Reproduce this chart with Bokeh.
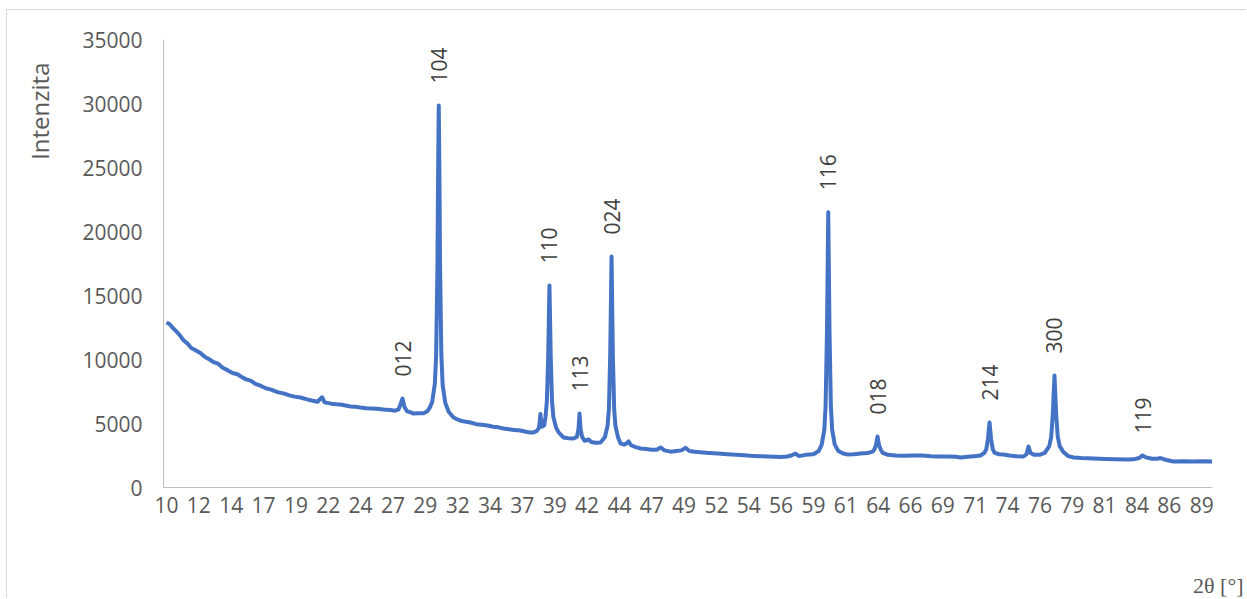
import numpy as np
from bokeh.plotting import figure
from bokeh.models import Range1d, FixedTicker, Title, ColumnDataSource
from bokeh.core.properties import value
from bokeh.embed import file_html
from bokeh.resources import INLINE

# ---- data ----
two_theta = [
    10.00, 10.25, 10.54, 10.80, 11.05, 11.30, 11.60, 11.90, 12.25, 12.60, 12.95, 13.30, 13.60, 13.90,
    14.30, 14.70, 15.05, 15.43, 15.80, 16.10, 16.43, 16.80, 17.19, 17.60, 18.00, 18.50, 18.95, 19.40,
    19.80, 20.25, 20.70, 21.10, 21.55, 21.90, 22.10, 22.60, 23.00, 23.31, 23.70, 24.08, 24.50, 24.84,
    25.30, 25.70, 26.10, 26.60, 27.14, 27.50, 27.75, 27.92, 28.06, 28.20, 28.40, 28.60, 28.90, 29.30,
    29.66, 29.95, 30.15, 30.33, 30.53, 30.63, 30.73, 30.78, 30.83, 30.88, 30.93, 31.03, 31.13, 31.33,
    31.60, 31.96, 32.40, 32.80, 33.26, 33.70, 34.10, 34.56, 35.00, 35.40, 35.78, 36.20, 36.60, 37.08,
    37.50, 37.80, 38.08, 38.30, 38.50, 38.56, 38.61, 38.66, 38.75, 38.90, 39.00, 39.10, 39.20, 39.30,
    39.40, 39.50, 39.60, 39.80, 40.00, 40.37, 40.75, 41.14, 41.40, 41.52, 41.60, 41.68, 41.80, 42.00,
    42.29, 42.50, 42.80, 43.21, 43.55, 43.75, 43.85, 43.95, 44.05, 44.15, 44.25, 44.35, 44.55, 44.74,
    45.00, 45.20, 45.35, 45.55, 45.90, 46.27, 46.70, 47.10, 47.50, 47.80, 48.10, 48.56, 49.00, 49.40,
    49.71, 50.00, 50.40, 50.86, 51.50, 52.20, 52.90, 53.60, 54.20, 54.68, 55.30, 56.00, 56.50, 56.98,
    57.50, 57.80, 58.12, 58.40, 58.90, 59.50, 59.90, 60.13, 60.33, 60.43, 60.53, 60.63, 60.73, 60.83,
    60.93, 61.13, 61.40, 61.80, 62.11, 62.60, 63.10, 63.64, 64.02, 64.15, 64.28, 64.40, 64.52, 64.65,
    64.80, 65.20, 65.80, 66.40, 67.15, 67.80, 68.50, 69.10, 69.75, 70.40, 70.75, 71.30, 71.80, 72.28,
    72.57, 72.72, 72.85, 72.97, 73.09, 73.22, 73.37, 73.70, 74.04, 74.50, 75.00, 75.57, 75.80, 75.95,
    76.10, 76.40, 76.80, 77.20, 77.54, 77.69, 77.81, 77.94, 78.07, 78.19, 78.34, 78.60, 79.00, 79.40,
    80.00, 80.93, 81.80, 82.60, 83.53, 84.00, 84.40, 84.68, 84.95, 85.40, 85.80, 86.05, 86.50, 87.05,
    87.80, 88.58, 89.30, 90.00,
]
intensity = [
    12900, 12750, 12400, 12150, 11850, 11500, 11250, 10900, 10700, 10500, 10200, 10000, 9800, 9700,
    9350, 9150, 8950, 8850, 8600, 8450, 8350, 8100, 7950, 7750, 7650, 7450, 7350, 7200,
    7100, 7030, 6900, 6800, 6700, 7050, 6650, 6550, 6500, 6480, 6400, 6330, 6300, 6250,
    6200, 6180, 6150, 6090, 6050, 6000, 6100, 6550, 6950, 6300, 5950, 5900, 5780, 5800,
    5800, 5950, 6250, 6700, 8100, 10300, 17300, 24600, 29850, 24600, 17300, 10300, 8000, 6600,
    5900, 5470, 5250, 5150, 5080, 4950, 4900, 4840, 4750, 4700, 4610, 4550, 4500, 4450,
    4350, 4300, 4300, 4400, 4650, 5200, 5750, 5200, 4750, 4850, 5550, 6700, 10100, 15780,
    10100, 6700, 5500, 4700, 4300, 3910, 3850, 3830, 3950, 4550, 5780, 4550, 3950, 3650,
    3750, 3550, 3500, 3520, 3950, 4850, 6150, 10450, 18050, 10450, 6150, 4800, 3900, 3440,
    3350, 3450, 3600, 3300, 3150, 3050, 3000, 2950, 2950, 3130, 2900, 2800, 2850, 2900,
    3100, 2850, 2800, 2750, 2700, 2650, 2600, 2550, 2520, 2480, 2450, 2420, 2400, 2380,
    2420, 2500, 2650, 2450, 2550, 2600, 2850, 3350, 4500, 6400, 12050, 21500, 12050, 6400,
    4500, 3350, 2850, 2650, 2580, 2600, 2650, 2700, 2800, 2950, 3300, 3980, 3300, 2950,
    2700, 2550, 2500, 2480, 2500, 2500, 2450, 2430, 2420, 2400, 2350, 2400, 2450, 2500,
    2700, 2980, 3790, 5080, 3790, 2980, 2700, 2600, 2580, 2500, 2450, 2420, 2600, 3200,
    2700, 2550, 2550, 2700, 3230, 3950, 5700, 8750, 5700, 3950, 3230, 2800, 2450, 2340,
    2300, 2260, 2220, 2200, 2180, 2200, 2300, 2500, 2350, 2250, 2250, 2300, 2150, 2030,
    2050, 2030, 2050, 2030,
]

peak_labels = ["012", "104", "110", "113", "024", "116", "018", "214", "300", "119"]
peak_x = [28.06, 30.83, 39.30, 41.60, 44.05, 60.63, 64.40, 72.97, 77.94, 84.68]
peak_y = [6950, 29850, 15780, 5780, 18050, 21500, 3980, 5080, 8750, 2500]

x_tick_labels = ["10", "12", "14", "17", "19", "22", "24", "27", "29", "32", "34", "37", "39",
                 "42", "44", "47", "49", "52", "54", "56", "59", "61", "64", "66", "69", "71",
                 "74", "76", "79", "81", "84", "86", "89"]
y_ticks = [0, 5000, 10000, 15000, 20000, 25000, 30000, 35000]

# ---- figure ----
FONT = "Open Sans"
p = figure(width=1240, height=589, output_backend="svg", toolbar_location=None,
           x_range=Range1d(9.77, 90.03), y_range=Range1d(0, 35000),
           min_border_left=156, min_border_right=35, min_border_top=29, min_border_bottom=112)
p.styles = {"margin-left": "6px", "margin-top": "9px",
            "border-left": "1px solid #d9d9d9", "border-top": "1px solid #d9d9d9"}
p.outline_line_color = None
p.grid.visible = False
p.background_fill_color = "white"
p.border_fill_color = "white"

x_tick_pos = list(np.linspace(10, 89.2, len(x_tick_labels)))
p.xaxis.ticker = FixedTicker(ticks=x_tick_pos)
p.xaxis.major_label_overrides = {float(t): l for t, l in zip(x_tick_pos, x_tick_labels)}
p.yaxis.ticker = FixedTicker(ticks=y_ticks)

for ax in (p.xaxis, p.yaxis):
    ax.axis_line_color = "#bfbfbf"
    ax.axis_line_width = 1
    ax.major_tick_line_color = None
    ax.minor_tick_line_color = None
    ax.major_label_text_font = FONT
    ax.major_label_text_font_size = "21px"
    ax.major_label_text_color = "#595959"
p.xaxis.major_label_standoff = 3
p.yaxis.major_label_standoff = 15

p.line(two_theta, intensity, line_color="#4472C4", line_width=4, line_join="round")

src = ColumnDataSource(dict(x=peak_x, y=peak_y, t=peak_labels))
p.text(x="x", y="y", text="t", source=src, angle=np.pi / 2, text_align="left",
       text_baseline="middle", y_offset=-22, text_font=value(FONT),
       text_font_size="21px", text_color="#404040")

# spacer left of the y tick labels, then the y title
p.add_layout(Title(text=" ", standoff=21, text_font_size="1px"), "left")
p.add_layout(Title(text="Intenzita", align="right", offset=23, standoff=0,
                   text_font=FONT, text_font_size="24px", text_font_style="normal",
                   text_color="#595959"), "left")
# spacer below the tick labels, so that the x title sits near the bottom edge
p.add_layout(Title(text=" ", standoff=52, text_font_size="1px"), "below")
p.add_layout(Title(text="2θ [°]", align="right", offset=-31, standoff=0,
                   text_font="Liberation Serif", text_font_size="22px", text_font_style="normal",
                   text_color="#595959"), "below")

open("out.html", "w").write(file_html(p, INLINE))
